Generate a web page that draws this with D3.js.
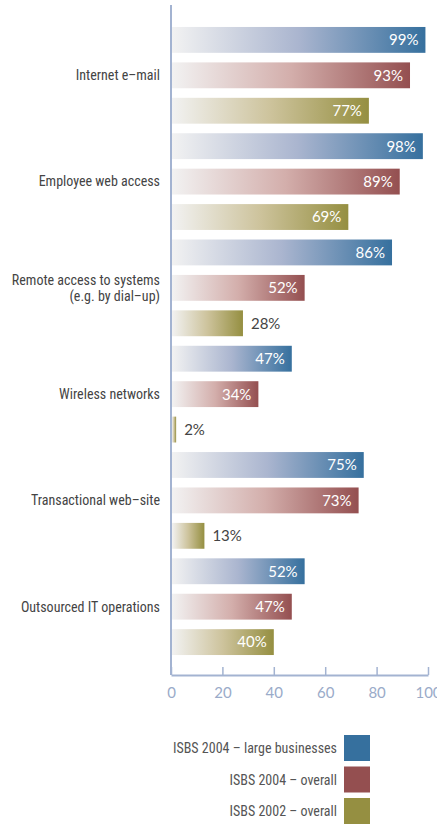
<!DOCTYPE html>
<html>
<head>
<meta charset="utf-8">
<script src="https://cdn.jsdelivr.net/npm/d3@7"></script>
<style>
  body { margin: 0; background: #fff; }
  svg { display: block; }
</style>
</head>
<body>
<div id="chart"></div>
<script>
// categories and values
const categories = [
  ["Internet e\u2013mail"],
  ["Employee web access"],
  ["Remote access to systems", "(e.g. by dial\u2013up)"],
  ["Wireless networks"],
  ["Transactional web\u2013site"],
  ["Outsourced IT operations"]
];
const seriesNames = ["ISBS 2004 \u2013 large businesses", "ISBS 2004 \u2013 overall", "ISBS 2002 \u2013 overall"];
const large2004   = [99, 98, 86, 47, 75, 52];
const overall2004 = [93, 89, 52, 34, 73, 47];
const overall2002 = [77, 69, 28, 2, 13, 40];
const xTicks = [0, 20, 40, 60, 80, 100];

const seriesColors = ["#36709e", "#944f50", "#958f41"];
const seriesMids   = ["#aab5cf", "#d3aeab", "#cdc39c"];

const width = 437, height = 825;
const labelFont = "'Liberation Sans Narrow', 'Roboto Condensed', 'Liberation Sans', sans-serif";

const svg = d3.select("#chart").append("svg")
  .attr("width", width)
  .attr("height", height);

const defs = svg.append("defs");
seriesColors.forEach((c, i) => {
  const g = defs.append("linearGradient")
    .attr("id", "grad" + i)
    .attr("x1", 0).attr("x2", 1).attr("y1", 0).attr("y2", 0);
  g.append("stop").attr("offset", "0%").attr("stop-color", "#f2f2f2");
  g.append("stop").attr("offset", "50%").attr("stop-color", seriesMids[i]);
  g.append("stop").attr("offset", "100%").attr("stop-color", c);
});

// flatten rows: one row per bar
const series = [large2004, overall2004, overall2002];
const rows = [];
categories.forEach((cat, ci) => {
  series.forEach((s, si) => rows.push({cat: ci, s: si, value: s[ci]}));
});

const x = d3.scaleLinear().domain([0, 100]).range([171, 428]);
const y = d3.scaleBand()
  .domain(d3.range(rows.length))
  .range([25.2, 656.8])
  .paddingInner(0.27)
  .paddingOuter(0.05);

// bars
const bars = svg.append("g");
bars.selectAll("rect")
  .data(rows)
  .enter()
  .append("rect")
  .attr("x", x(0) + 1)
  .attr("y", (d, i) => y(i))
  .attr("width", d => x(d.value) - x(0) - 1)
  .attr("height", y.bandwidth())
  .attr("fill", d => "url(#grad" + d.s + ")");

// value labels
bars.selectAll("text")
  .data(rows)
  .enter()
  .append("text")
  .attr("x", d => d.value >= 30 ? x(d.value) - 7 : x(d.value) + 8)
  .attr("y", (d, i) => y(i) + y.bandwidth() / 2)
  .attr("dy", "0.36em")
  .attr("text-anchor", d => d.value >= 30 ? "end" : "start")
  .attr("fill", d => d.value >= 30 ? "#fff" : "#444")
  .style("font-family", "Lato, 'Open Sans', sans-serif")
  .style("font-size", "15px")
  .text(d => d.value + "%");

// category labels
const catLabels = svg.append("g");
categories.forEach((lines, ci) => {
  const mid = y(ci * 3 + 1) + y.bandwidth() / 2;
  const t = catLabels.append("text")
    .attr("x", 160)
    .attr("y", mid - (lines.length - 1) * 8)
    .attr("text-anchor", "end")
    .attr("fill", "#444")
    .style("font-family", labelFont)
    .style("font-size", "14px");
  lines.forEach((ln, li) => {
    t.append("tspan")
      .attr("x", 160)
      .attr("dy", li === 0 ? "0.35em" : "16px")
      .text(ln);
  });
});

// axis
const axisColor = "#a3b3d1";
svg.append("line")
  .attr("x1", x(0)).attr("x2", x(0))
  .attr("y1", 5).attr("y2", 675)
  .attr("stroke", axisColor).attr("stroke-width", 2);

const xAxis = svg.append("g")
  .attr("transform", "translate(0,675)")
  .call(d3.axisBottom(x).tickValues(xTicks).tickSize(-8).tickPadding(12).tickSizeOuter(0));
xAxis.select(".domain").attr("stroke", axisColor).attr("stroke-width", 2);
xAxis.selectAll(".tick line").attr("stroke", axisColor).attr("stroke-width", 1.5);
xAxis.selectAll(".tick text")
  .attr("fill", "#9aabc9")
  .style("font-family", "Lato, 'Open Sans', sans-serif")
  .style("font-size", "15px");

// legend
const legend = svg.append("g");
seriesNames.forEach((name, i) => {
  const ly = 735 + i * 31.5;
  legend.append("rect")
    .attr("x", 344).attr("y", ly)
    .attr("width", 26).attr("height", 26)
    .attr("fill", seriesColors[i]);
  legend.append("text")
    .attr("x", 337).attr("y", ly + 13)
    .attr("dy", "0.36em")
    .attr("text-anchor", "end")
    .attr("fill", "#555")
    .style("font-family", labelFont)
    .style("font-size", "14px")
    .text(name);
});
</script>
</body>
</html>
